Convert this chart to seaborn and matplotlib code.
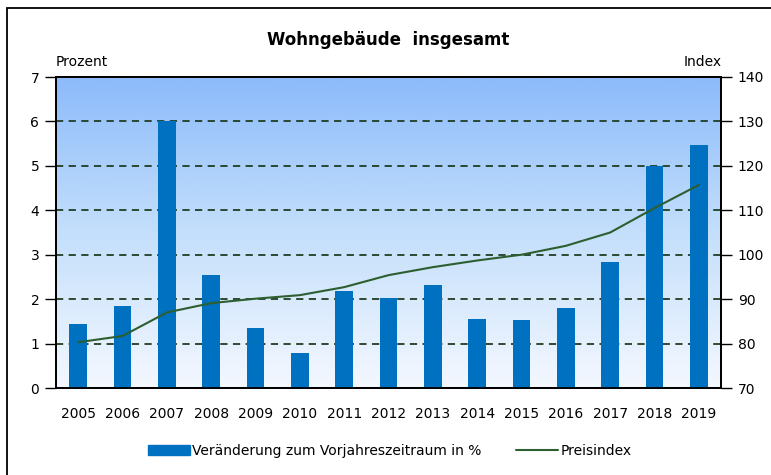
import numpy as np
import pandas as pd
import seaborn as sns
import matplotlib.pyplot as plt
from matplotlib.colors import LinearSegmentedColormap
from matplotlib.patches import Rectangle, Patch
from matplotlib.lines import Line2D

# data
years = ["2005", "2006", "2007", "2008", "2009", "2010", "2011", "2012",
         "2013", "2014", "2015", "2016", "2017", "2018", "2019"]
change_pct = [1.44, 1.85, 6.0, 2.54, 1.34, 0.78, 2.18, 2.03,
              2.32, 1.55, 1.52, 1.81, 2.84, 5.0, 5.47]
price_index = [80.3, 81.7, 87.0, 89.1, 90.1, 90.9, 92.7, 95.4,
               97.2, 98.7, 100.0, 102.0, 105.0, 110.5, 115.7]

df = pd.DataFrame({"Jahr": years, "Veraenderung": change_pct, "Index": price_index})

sns.set_style("white")
plt.rcParams["font.family"] = ["DejaVu Sans"]
plt.rcParams["text.color"] = "black"
plt.rcParams["xtick.color"] = "black"
plt.rcParams["ytick.color"] = "black"
plt.rcParams["axes.labelcolor"] = "black"

fig = plt.figure(figsize=(7.71, 4.75), dpi=100)
ax = fig.add_axes([56 / 771, 1 - 388 / 475, 665 / 771, 311 / 475])

# gradient background
cmap = LinearSegmentedColormap.from_list("bg", ["#f4f8ff", "#c4dffb", "#8cbbfb"])
grad = np.linspace(0, 1, 256).reshape(-1, 1)
ax.imshow(grad, cmap=cmap, aspect="auto", origin="lower",
          extent=(-0.5, len(years) - 0.5, 0, 7), zorder=0)

sns.barplot(data=df, x="Jahr", y="Veraenderung", color="#0070c0", saturation=1,
            width=0.4, linewidth=0, ax=ax, zorder=3)
ax.set_xlim(-0.5, len(years) - 0.5)
ax.set_ylim(0, 7)
ax.set_yticks(range(0, 8))
for v in range(1, 7):
    ax.axhline(v, color="#1f3d22", lw=1.3, ls=(0, (4, 3)), zorder=2)
ax.set_xlabel("")
ax.set_ylabel("")
ax.tick_params(axis="y", direction="out", length=8, width=1, labelsize=10, pad=4, left=True)
ax.tick_params(axis="x", length=0, labelsize=10, pad=14)

ax2 = ax.twinx()
sns.lineplot(x=np.arange(len(years)), y=df["Index"], color="#2d5e2f", lw=1.5, ax=ax2, zorder=4)
ax2.set_ylim(70, 140)
ax2.set_yticks(range(70, 141, 10))
ax2.set_ylabel("")
ax2.tick_params(axis="y", direction="out", length=8, width=1, labelsize=10, pad=4, right=True)

for a in (ax, ax2):
    for s in a.spines.values():
        s.set_color("black")
        s.set_linewidth(1.3)

fig.text(388 / 771, 1 - 40 / 475, "Wohngebäude  insgesamt", ha="center", va="center",
         fontsize=12, fontweight="bold")
fig.text(56 / 771, 1 - 62 / 475, "Prozent", ha="left", va="center", fontsize=10)
fig.text(722 / 771, 1 - 62 / 475, "Index", ha="right", va="center", fontsize=10)

handles = [Patch(color="#0070c0"), Line2D([], [], color="#2d5e2f", lw=1.5)]
fig.legend(handles, ["Veränderung zum Vorjahreszeitraum in %", "Preisindex"],
           loc="center", bbox_to_anchor=(390 / 771, 1 - 451 / 475), ncol=2, frameon=False,
           fontsize=10, handlelength=3, handleheight=0.8, columnspacing=2.5, handletextpad=0.2)

# outer frame
fig.patches.append(Rectangle((7 / 771, -0.1), 1.1, 1 - 8 / 475 + 0.1, transform=fig.transFigure,
                             fill=False, edgecolor="black", lw=1.3))

fig.savefig("out.png", dpi=100)
